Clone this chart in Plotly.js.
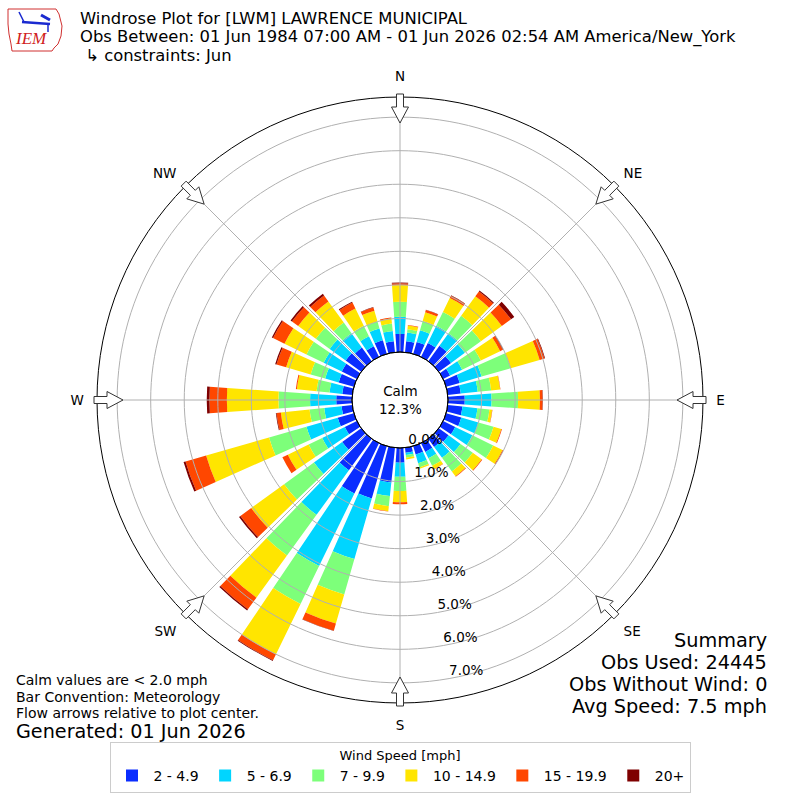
<!DOCTYPE html>
<html>
<head>
<meta charset="utf-8">
<script src="https://cdn.plot.ly/plotly-3.0.1.min.js"></script>
<style>html,body{margin:0;padding:0;background:#fff;}#chart{width:800px;height:800px;}</style>
</head>
<body>
<div id="chart"></div>
<script>
// ---- data ----
const directions = [0,10,20,30,40,50,60,70,80,90,100,110,120,130,140,150,160,170,180,190,200,210,220,230,240,250,260,270,280,290,300,310,320,330,340,350];
const speedBins = ["2 - 4.9","5 - 6.9","7 - 9.9","10 - 14.9","15 - 19.9","20+"];
const binColors = ["#0a2dff","#00d5ff","#7dff7a","#ffe500","#ff4700","#7f0000"];
const pct2to5   = [0.54,0.33,0.37,0.46,0.57,0.45,0.23,0.42,0.39,0.50,0.44,0.47,0.40,0.36,0.30,0.29,0.26,0.15,0.44,1.04,1.62,1.67,1.16,0.70,0.40,0.50,0.32,0.47,0.30,0.47,0.50,0.57,0.50,0.35,0.42,0.33];
const pct5to7   = [0.51,0.26,0.36,0.57,0.46,0.51,0.40,0.68,0.51,0.80,0.45,0.53,0.57,0.44,0.40,0.21,0.27,0.07,0.42,0.41,1.88,2.40,1.64,1.04,0.75,0.97,0.52,0.78,0.38,0.42,0.60,0.59,0.53,0.33,0.37,0.31];
const pct7to10  = [0.45,0.10,0.29,0.46,0.64,0.59,0.62,0.90,0.40,0.79,0.36,0.47,0.69,0.45,0.50,0.25,0.13,0.08,0.42,0.30,1.10,1.26,1.50,1.10,0.45,1.16,0.44,0.94,0.39,0.45,0.57,0.51,0.39,0.35,0.21,0.22];
const pct10to15 = [0.50,0.11,0.27,0.46,0.72,0.77,0.64,0.90,0.27,0.65,0.08,0.24,0.31,0.33,0.18,0.11,0.04,0.05,0.34,0.15,0.90,1.67,1.55,1.21,0.69,1.95,0.86,1.54,0.59,0.76,0.73,0.65,0.78,0.57,0.34,0.15];
const pct15to20 = [0.05,0.02,0.07,0.08,0.18,0.34,0.09,0.15,0.01,0.08,0.01,0.02,0.03,0.02,0.02,0.01,0.00,0.00,0.06,0.01,0.22,0.20,0.43,0.40,0.18,0.64,0.13,0.52,0.03,0.30,0.38,0.23,0.22,0.20,0.10,0.03];
const pct20plus = [0.02,0.00,0.01,0.01,0.03,0.12,0.02,0.02,0.00,0.01,0.00,0.00,0.00,0.00,0.00,0.00,0.00,0.00,0.00,0.00,0.01,0.02,0.04,0.05,0.00,0.06,0.02,0.08,0.00,0.04,0.04,0.05,0.06,0.03,0.01,0.00];
const ringValues = [0,1,2,3,4,5,6,7];
const ringLabels = ["0.0%","1.0%","2.0%","3.0%","4.0%","5.0%","6.0%","7.0%"];
const compassAngles = [0,45,90,135,180,225,270,315];
const compassLabels = ["N","NE","E","SE","S","SW","W","NW"];
const calmPct = "12.3%";
const radialMax = 7.6;

const series = [pct2to5,pct5to7,pct7to10,pct10to15,pct15to20,pct20plus];
const FONT = "DejaVu Sans, Liberation Sans, sans-serif";
const GRID = '#b0b0b0';

const traces = series.map((vals,i)=>({
  type:'barpolar', r: vals, theta: directions, name: speedBins[i],
  width: 8, marker:{color: binColors[i], line:{width:0}},
  hoverinfo:'skip'
}));
// grid drawn above the bars (as in the reference)
const circleTheta=[]; for(let a=0;a<=360;a+=2) circleTheta.push(a);
ringValues.slice(1).forEach(k=>{
  traces.push({type:'scatterpolar',mode:'lines',r:circleTheta.map(()=>k),theta:circleTheta,
    line:{color:GRID,width:1},showlegend:false,hoverinfo:'skip'});
});
compassAngles.forEach(a=>{
  traces.push({type:'scatterpolar',mode:'lines',r:[0,radialMax],theta:[a,a],
    line:{color:GRID,width:1},showlegend:false,hoverinfo:'skip'});
});
traces.push({
  type:'scatterpolar', mode:'text', r: ringValues, theta: ringValues.map(()=>170),
  text: ringLabels, textposition:'top right', showlegend:false, cliponaxis:false,
  textfont:{family:FONT,size:13.5,color:'#000'}, hoverinfo:'skip'
});

// geometry of the polar area in pixels (for decorations only)
const W=800, CX=400, CY=400, R=303, HOLE=48;
const px = x=>x/W, py = y=>1-y/W;

const shapes = [];
shapes.push({type:'circle',xref:'paper',yref:'paper',x0:px(CX-HOLE),x1:px(CX+HOLE),y0:py(CY+HOLE),y1:py(CY-HOLE),line:{color:'#000',width:1},layer:'above'});
compassAngles.forEach(a=>{
  const t=a*Math.PI/180, s=Math.sin(t), c=Math.cos(t);
  const P=(d,v)=>[CX+d*s+v*c, CY-d*c+v*s];
  const pts=[P(277,0),P(293,8.5),P(293,3.5),P(306,3.5),P(306,-3.5),P(293,-3.5),P(293,-8.5)];
  const path='M'+pts.map(p=>px(p[0]).toFixed(5)+','+py(p[1]).toFixed(5)).join(' L')+' Z';
  shapes.push({type:'path',xref:'paper',yref:'paper',path:path,fillcolor:'#fff',line:{color:'#333',width:1},layer:'above'});
});
const logoPts=[[8,9],[56,9],[59,14],[62,26],[61,36],[58,44],[54,48],[52,51],[12,51],[11,44],[9,34],[8,24]];
shapes.push({type:'path',xref:'paper',yref:'paper',path:'M'+logoPts.map(p=>px(p[0]).toFixed(5)+','+py(p[1]).toFixed(5)).join(' L')+' Z',line:{color:'#d03030',width:1},fillcolor:'rgba(0,0,0,0)'});
shapes.push({type:'line',xref:'paper',yref:'paper',x0:px(22),y0:py(22),x1:px(50),y1:py(24),line:{color:'#1a2ad0',width:2.5}});
shapes.push({type:'line',xref:'paper',yref:'paper',x0:px(19),y0:py(12),x1:px(24),y1:py(22),line:{color:'#1a2ad0',width:1.5}});
shapes.push({type:'line',xref:'paper',yref:'paper',x0:px(41),y0:py(15),x1:px(50),y1:py(20),line:{color:'#1a2ad0',width:3}});
shapes.push({type:'line',xref:'paper',yref:'paper',x0:px(48),y0:py(24),x1:px(48),y1:py(32),line:{color:'#1a2ad0',width:1.5}});

const ann = (x,y,text,size,xa,extra)=>Object.assign({xref:'paper',yref:'paper',x:px(x),y:py(y),text:text,showarrow:false,xanchor:xa||'left',yanchor:'middle',align:xa||'left',borderpad:0,font:{family:FONT,size:size,color:'#000'}},extra||{});
const annotations=[
  ann(79,18.5,'Windrose Plot for [LWM] LAWRENCE MUNICIPAL',16.4),
  ann(79,37,'Obs Between: 01 Jun 1984 07:00 AM - 01 Jun 2026 02:54 AM America/New_York',16.4),
  ann(79,55.5,' ↳ constraints: Jun',16.4),
  ann(CX,CY,'Calm<br>'+calmPct,13.5,'center'),
  ann(15,679.5,'Calm values are &lt; 2.0 mph',14),
  ann(15,696.5,'Bar Convention: Meteorology',14),
  ann(15,712.5,'Flow arrows relative to plot center.',14),
  ann(15,731,'Generated: 01 Jun 2026',19.2),
  ann(768,640,'Summary',19.3,'right'),
  ann(768,662,'Obs Used: 24445',19.3,'right'),
  ann(768,684,'Obs Without Wind: 0',19.3,'right'),
  ann(768,706,'Avg Speed: 7.5 mph',19.3,'right'),
  ann(31,39,'<i>IEM</i>',17,'center',{font:{family:'Liberation Serif, serif',size:17,color:'#d02020'}})
];

const layout = {
  width:800, height:800, margin:{l:0,r:0,t:0,b:0},
  paper_bgcolor:'#fff', font:{family:FONT,size:13,color:'#000'},
  showlegend:true,
  legend:{orientation:'h',x:0.5,xanchor:'center',y:py(742),yanchor:'top',
    bordercolor:'#cccccc',borderwidth:1,bgcolor:'#fff',itemwidth:33,
    font:{family:FONT,size:14},
    title:{text:'Wind Speed [mph]',side:'top center',font:{family:FONT,size:13}},
    itemclick:false,itemdoubleclick:false},
  polar:{
    domain:{x:[px(CX-R),px(CX+R)],y:[py(CY+R),py(CY-R)]},
    hole: HOLE/R, bgcolor:'#fff', barmode:'stack',
    radialaxis:{range:[0,radialMax],tickvals:ringValues,showticklabels:false,ticks:'',
      showline:false,showgrid:false,angle:-80},
    angularaxis:{rotation:90,direction:'clockwise',tickvals:compassAngles,ticktext:compassLabels,
      ticks:'outside',ticklen:10,tickcolor:'rgba(0,0,0,0)',showline:true,linecolor:'#000',linewidth:1,
      showgrid:false,tickfont:{family:FONT,size:13.5}}
  },
  shapes:shapes, annotations:annotations
};
Plotly.newPlot('chart',traces,layout,{displayModeBar:false,staticPlot:true});
</script>
</body>
</html>
